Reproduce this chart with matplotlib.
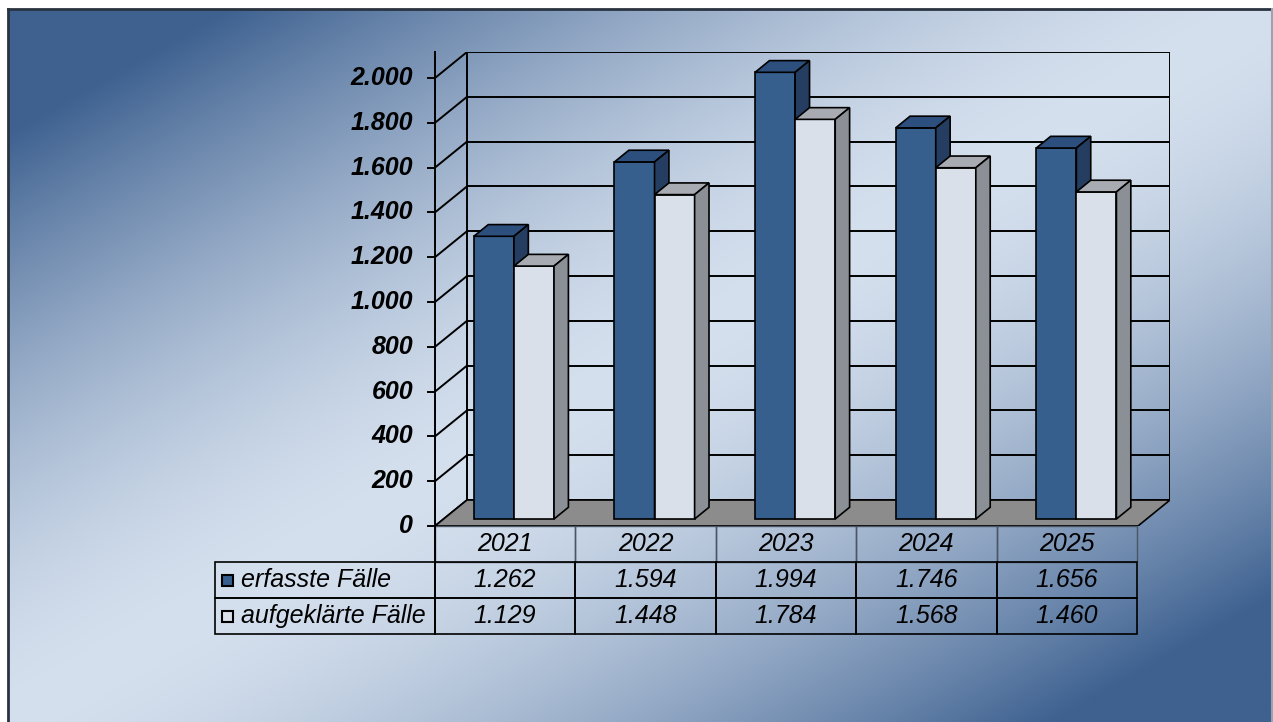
import numpy as np
import matplotlib
matplotlib.use("Agg")
import matplotlib.pyplot as plt
from matplotlib.patches import Polygon, Rectangle

plt.rcParams['font.family'] = ['Liberation Sans', 'DejaVu Sans']

# Daten
jahre = ['2021', '2022', '2023', '2024', '2025']
serien = ['erfasste Fälle', 'aufgeklärte Fälle']
erfasst = [1262, 1594, 1994, 1746, 1656]
aufgeklaert = [1129, 1448, 1784, 1568, 1460]
y_ticks = [0, 200, 400, 600, 800, 1000, 1200, 1400, 1600, 1800, 2000]

def de(v):
    # deutsche Tausenderpunkte
    return f'{v:,}'.replace(',', '.')

W, H = 1273, 722
fig = plt.figure(figsize=(W / 100, H / 100), dpi=100)
fig.patch.set_facecolor('white')

# Hintergrund mit diagonalem Verlauf
bg = fig.add_axes([0, 0, 1, 1], zorder=-5)
bg.set_xlim(0, W)
bg.set_ylim(H, 0)
bg.axis('off')
xx, yy = np.meshgrid(np.linspace(0, 1, 400), np.linspace(0, 1, 230))
t = (xx + yy) / 2
f = np.clip(1.35 * (np.abs(t - 0.5) * 2) ** 1.6, 0, 1)[..., None]
hell = np.array([213, 224, 238]) / 255
dunkel = np.array([62, 97, 144]) / 255
img = hell + (dunkel - hell) * f
bg.imshow(img, extent=(8, W, H, 9), aspect='auto', interpolation='bilinear')
bg.plot([8, W], [9, 9], color='#2a3340', lw=2)
bg.plot([8, 8], [9, H], color='#2a3340', lw=2)
bg.plot([W - 1.5, W - 1.5], [9, H], color='#9aa4b0', lw=1.5)

# Hauptachse (Vorderebene)
DX = 0.2276   # Tiefe in Kategorie-Einheiten
DY = 116      # Tiefe in Werte-Einheiten
ax = fig.add_axes([435 / W, (H - 526) / H, 735 / W, 474 / H])
ax.set_xlim(0, len(jahre) + DX)
ax.set_ylim(0, y_ticks[-1] + DY)
ax.axis('off')
ax.patch.set_alpha(0)

n = len(jahre)
# Gitter auf Rück- und Seitenwand
for v in y_ticks:
    ax.plot([DX, n + DX], [v + DY, v + DY], color='black', lw=1.4, zorder=1)
    ax.plot([0, DX], [v, v + DY], color='black', lw=1.4, zorder=1)
    ax.plot([-0.05, 0], [v, v], color='black', lw=1.4, zorder=1, clip_on=False)
    ax.text(-0.156, v, de(v), ha='right', va='center', fontsize=18,
            fontweight='bold', style='italic')
ax.plot([DX, DX], [DY, y_ticks[-1] + DY], color='black', lw=1.4, zorder=1)
ax.plot([n + DX, n + DX], [DY, y_ticks[-1] + DY], color='black', lw=1.4, zorder=1)

# Boden
ax.add_patch(Polygon([(0, 0), (n, 0), (n + DX, DY), (DX, DY)], closed=True,
                     facecolor='#8c8c8c', edgecolor='black', lw=1.2, zorder=2))

# 3D-Säulen
bw = 0.285
d0, d1 = 0.27, 0.72
farben = [('#365f8e', '#2c4f7d', '#243d60'), ('#d9e0ea', '#a8acb2', '#8b9096')]
for i in range(n):
    for j, werte in enumerate([erfasst, aufgeklaert]):
        v = werte[i]
        x0 = i + 0.5 - bw + j * bw
        ox0, oy0 = d0 * DX, d0 * DY
        ox1, oy1 = d1 * DX, d1 * DY
        front, top, side = farben[j]
        z = 3 + i * 2 + j
        ax.add_patch(Polygon([(x0 + ox0, oy0), (x0 + bw + ox0, oy0),
                              (x0 + bw + ox0, v + oy0), (x0 + ox0, v + oy0)],
                             facecolor=front, edgecolor='black', lw=1.2, zorder=z))
        ax.add_patch(Polygon([(x0 + ox0, v + oy0), (x0 + bw + ox0, v + oy0),
                              (x0 + bw + ox1, v + oy1), (x0 + ox1, v + oy1)],
                             facecolor=top, edgecolor='black', lw=1.2, zorder=z))
        ax.add_patch(Polygon([(x0 + bw + ox0, oy0), (x0 + bw + ox1, oy1),
                              (x0 + bw + ox1, v + oy1), (x0 + bw + ox0, v + oy0)],
                             facecolor=side, edgecolor='black', lw=1.2, zorder=z))

# Datentabelle (erste Spalte = Zeilenbeschriftung)
tx0, tw = (215 - 435) / 735, (1137 - 215) / 735
th = 108 / 474
ty0 = -th
zeilen = [[serien[0]] + [de(v) for v in erfasst],
          [serien[1]] + [de(v) for v in aufgeklaert]]
tab = ax.table(cellText=zeilen, colLabels=[''] + jahre, cellLoc='center',
               bbox=[tx0, ty0, tw, th])
tab.auto_set_font_size(False)
tab.set_fontsize(18)
for (r, c), cell in tab.get_celld().items():
    cell.set_facecolor('none')
    cell.get_text().set_fontstyle('italic')
    cell.set_width(220 if c == 0 else 140.6)
    if c == 0:
        cell.get_text().set_horizontalalignment('left')
        cell._loc = 'left'
        cell.PAD = 0.12
    if r == 0:
        cell.set_edgecolor('#4a5565')
        cell.set_linewidth(1.0)
        if c == 0:
            cell.visible_edges = ''
    else:
        cell.set_edgecolor('black')
        cell.set_linewidth(1.2)

# senkrechte Linie der Vorderkante durch die Tabelle
ax.plot([0, 0], [ty0, 1], transform=ax.transAxes, color='black', lw=1.4,
        clip_on=False, zorder=20)
ax.plot([0, 0], [0, y_ticks[-1]], color='black', lw=1.4, zorder=20)

# Legendensymbole in den Zeilenbeschriftungen
rh = th / 3
sq_w, sq_h = 11 / 735, 11 / 474
for k, fc in enumerate([farben[0][0], farben[1][0]]):
    cy = ty0 + (1.5 - k) * rh
    ax.add_patch(Rectangle(((222 - 435) / 735, cy - sq_h / 2), sq_w, sq_h,
                           transform=ax.transAxes, facecolor=fc,
                           edgecolor='black', lw=1.5, clip_on=False, zorder=21))

fig.savefig('out.png', dpi=100)
